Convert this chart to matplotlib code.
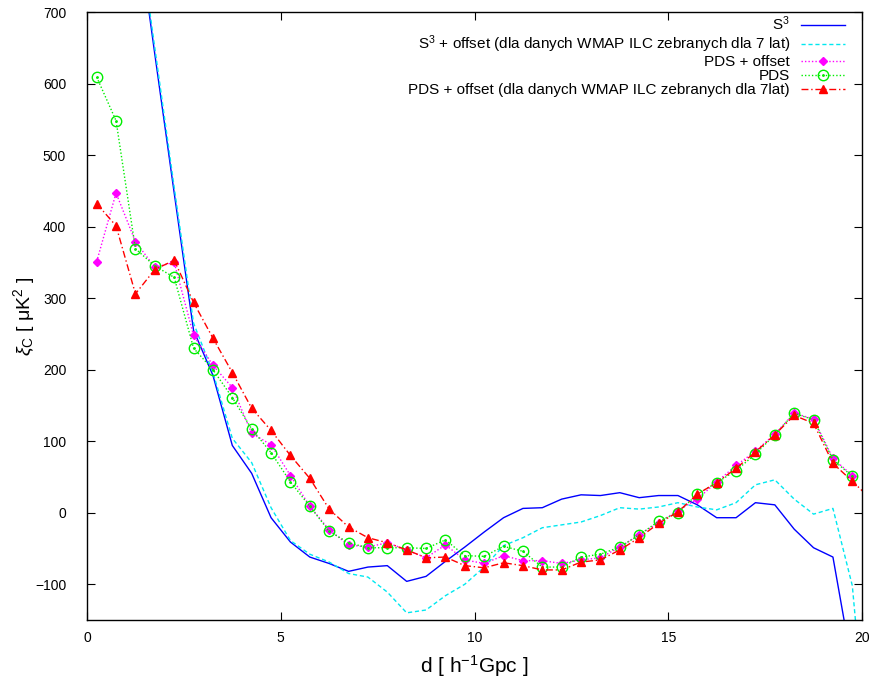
import numpy as np
import matplotlib
matplotlib.use('Agg')
import matplotlib.pyplot as plt
from matplotlib.legend_handler import HandlerTuple

plt.rcParams['font.family'] = ['Liberation Sans', 'DejaVu Sans']
plt.rcParams['mathtext.fontset'] = 'custom'
plt.rcParams['mathtext.rm'] = 'Liberation Sans'
plt.rcParams['mathtext.it'] = 'Liberation Sans:italic'

# odleglosci d [h^-1 Gpc]
d = [0.25, 0.75, 1.25, 1.75, 2.25, 2.75, 3.25, 3.75, 4.25, 4.75,
     5.25, 5.75, 6.25, 6.75, 7.25, 7.75, 8.25, 8.75, 9.25, 9.75,
     10.25, 10.75, 11.25, 11.75, 12.25, 12.75, 13.25, 13.75, 14.25, 14.75,
     15.25, 15.75, 16.25, 16.75, 17.25, 17.75, 18.25, 18.75, 19.25, 19.75]
d_ext = d + [20.25]

s3 = [1400, 1150, 838, 641, 447, 255, 192, 94, 55, -7,
      -41, -62, -71, -82, -76, -74, -96, -89, -68, -48,
      -27, -7, 6, 7, 19, 25, 24, 28, 21, 24,
      24, 11, -7, -7, 14, 11, -23, -49, -62, -215]

s3_offset = [1400, 1150, 845, 650, 455, 265, 196, 104, 70, 7,
             -39, -58, -69, -85, -90, -111, -140, -136, -116, -100,
             -76, -46, -35, -21, -17, -13, -4, 7, 5, 8,
             14, 8, 4, 14, 39, 46, 19, -2, 6, -102, -400]

pds_offset = [351, 447, 379, 343, 350, 248, 206, 175, 111, 95,
              52, 9, -24, -45, -48, -42, -52, -63, -45, -66,
              -71, -60, -67, -67, -71, -66, -63, -48, -31, -14,
              3, 19, 43, 66, 86, 110, 139, 131, 76, 52]

pds = [609, 548, 369, 345, 329, 230, 200, 161, 117, 84,
       43, 9, -26, -42, -49, -49, -49, -50, -38, -60,
       -61, -47, -54, -76, -76, -62, -58, -48, -31, -12,
       0, 26, 42, 59, 82, 109, 139, 130, 74, 51]

pds_offset_7lat = [432, 401, 306, 340, 353, 294, 244, 196, 146, 115,
                   80, 48, 5, -20, -35, -42, -52, -63, -62, -74,
                   -77, -70, -74, -80, -80, -69, -66, -52, -35, -15,
                   1, 26, 42, 62, 85, 109, 136, 125, 69, 44, 18]

fig = plt.figure(figsize=(8.7, 6.79), dpi=100)
ax = fig.add_axes([87 / 870, 1 - 620 / 679, 775 / 870, 608 / 679])

l1, = ax.plot(d, s3, color='#0000ff', lw=1.0, label='S$^3$')
l2, = ax.plot(d_ext, s3_offset, color='#00e8f0', lw=1.0, ls=(0, (3, 2)),
              label='S$^3$ + offset (dla danych WMAP ILC zebranych dla 7 lat)')
l3, = ax.plot(d, pds_offset, color='#ff00ff', lw=1.0, ls=(0, (1, 1.5)),
              marker='D', ms=4.5, label='PDS + offset')
l4, = ax.plot(d, pds, color='#00ee00', lw=1.0, ls=(0, (1, 1.5)),
              marker='o', ms=7.5, mfc='none', mew=1.0, label='PDS')
l4d, = ax.plot(d, pds, color='#00ee00', lw=0, marker='.', ms=2)
l5, = ax.plot(d_ext, pds_offset_7lat, color='#ff0000', lw=1.0,
              ls=(0, (5, 2, 1, 2)), marker='^', ms=6,
              label='PDS + offset (dla danych WMAP ILC zebranych dla 7lat)')

ax.set_xlim(0, 20)
ax.set_ylim(-150, 700)
ax.set_xticks([0, 5, 10, 15, 20])
ax.set_yticks([-100, 0, 100, 200, 300, 400, 500, 600, 700])
ax.tick_params(direction='in', top=True, right=True, length=6, width=0.8,
               labelsize=10)
ax.tick_params(axis='x', pad=8)
ax.tick_params(axis='y', pad=15)
for sp in ax.spines.values():
    sp.set_linewidth(1.0)

ax.set_xlabel('d [ h$^{-1}$Gpc ]', fontsize=15, labelpad=6)
ax.set_ylabel(r'$\xi_{\rm C}$ [ μK$^2$ ]', fontsize=14)
ax.yaxis.set_label_coords(-0.064, 0.5)

leg = ax.legend([l1, l2, l3, (l4, l4d), l5],
                [l1.get_label(), l2.get_label(), l3.get_label(),
                 l4.get_label(), l5.get_label()],
                handler_map={tuple: HandlerTuple(ndivide=1)},
                loc='upper right', bbox_to_anchor=(0.992, 1.013),
                frameon=False, markerfirst=False, fontsize=11,
                handlelength=2.9, handletextpad=0.7, labelspacing=0.0,
                borderaxespad=0.3)
for t in leg.get_texts():
    t.set_ha('right')
leg._legend_box.align = 'right'

fig.savefig('out.png', dpi=100)
